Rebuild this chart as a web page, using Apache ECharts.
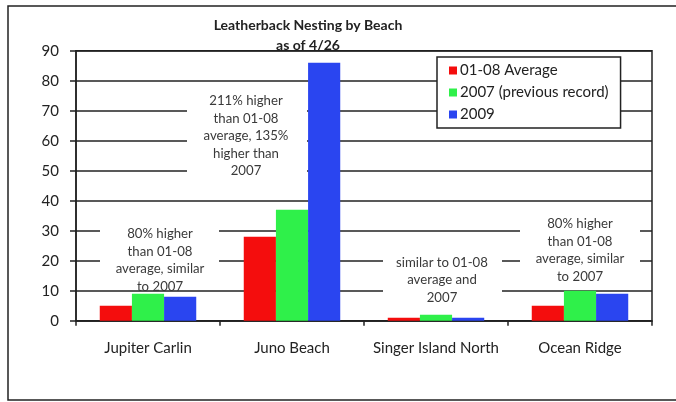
<!DOCTYPE html>
<html>
<head>
<meta charset="utf-8">
<script src="https://cdn.jsdelivr.net/npm/echarts@6/dist/echarts.min.js"></script>
<style>
  html, body { margin: 0; padding: 0; background: #fff; }
  #chart { width: 676px; height: 402px; }
</style>
</head>
<body>
<div id="chart"></div>
<script>
// beaches on the x axis
const beaches = ['Jupiter Carlin', 'Juno Beach', 'Singer Island North', 'Ocean Ridge']
// nest counts per series
const avg0108 = [5, 28, 1, 5]
const prev2007 = [9, 37, 2, 10]
const year2009 = [8, 86, 1, 9]
const seriesNames = ['01-08 Average', '2007 (previous record)', '2009']
const seriesColors = ['#f40d0d', '#2ff04a', '#2a45f0']
// notes written over the chart
const notes = [
  '80% higher\nthan 01-08\naverage, similar\nto 2007',
  '211% higher\nthan 01-08\naverage, 135%\nhigher than\n2007',
  'similar to 01-08\naverage and\n2007',
  '80% higher\nthan 01-08\naverage, similar\nto 2007',
]

const FONT = 'Lato, "Open Sans", sans-serif'
const chart = echarts.init(document.getElementById('chart'))

// white boxes behind the notes, they hide the grid lines
const noteBoxes = [
  { x: 100, y: 222, w: 119, h: 59, cx: 160, cy: 260 },
  { x: 187, y: 91, w: 120, h: 89, cx: 246, cy: 136 },
  { x: 383, y: 250, w: 119, h: 53, cx: 442, cy: 280 },
  { x: 520, y: 213, w: 120, h: 70, cx: 580, cy: 250 },
]

const graphics = [
  {
    type: 'rect',
    z: 0,
    silent: true,
    shape: { x: 8, y: 6, width: 680, height: 394 },
    style: { fill: 'none', stroke: '#222', lineWidth: 1.5 },
  },
]
noteBoxes.forEach((b, i) => {
  graphics.push({
    type: 'rect',
    z: 50,
    silent: true,
    shape: { x: b.x, y: b.y, width: b.w, height: b.h },
    style: { fill: '#fff' },
  })
  graphics.push({
    type: 'text',
    z: 51,
    silent: true,
    x: b.cx,
    y: b.cy,
    style: {
      text: notes[i],
      align: 'center',
      verticalAlign: 'middle',
      fontSize: 13.2,
      fontFamily: FONT,
      lineHeight: 17.5,
      fill: '#3a3a3a',
    },
  })
})

const option = {
  animation: false,
  backgroundColor: '#fff',
  title: {
    text: 'Leatherback Nesting by Beach\nas of 4/26',
    left: 303,
    top: 10,
    textAlign: 'center',
    textStyle: {
      fontFamily: FONT,
      fontSize: 14,
      fontWeight: 'bold',
      color: '#222',
      lineHeight: 20,
    },
  },
  legend: {
    orient: 'vertical',
    left: 437,
    top: 57,
    padding: [6, 12, 6, 12],
    itemWidth: 8,
    itemHeight: 8,
    itemGap: 7,
    backgroundColor: '#fff',
    borderColor: '#222',
    borderWidth: 1.5,
    borderRadius: 0,
    z: 60,
    textStyle: {
      fontFamily: FONT,
      fontSize: 15,
      color: '#222',
      padding: [0, 0, 0, -2],
    },
    data: seriesNames.map((n) => ({ name: n, icon: 'rect' })),
  },
  grid: {
    left: 76,
    right: 24,
    top: 50.7,
    bottom: 81.3,
    show: true,
    borderColor: '#222',
    borderWidth: 1.5,
  },
  xAxis: {
    type: 'category',
    data: beaches,
    axisLine: { lineStyle: { color: '#222', width: 1.5 } },
    axisTick: { show: true, length: 5, lineStyle: { color: '#222', width: 1.5 } },
    axisLabel: {
      interval: 0,
      fontFamily: FONT,
      fontSize: 15,
      color: '#222',
      margin: 20,
    },
  },
  yAxis: {
    type: 'value',
    min: 0,
    max: 90,
    interval: 10,
    axisLine: { show: true, lineStyle: { color: '#222', width: 1.5 } },
    axisTick: { show: true, length: 6, lineStyle: { color: '#222', width: 1.5 } },
    axisLabel: {
      fontFamily: FONT,
      fontSize: 15,
      color: '#222',
      margin: 17,
    },
    splitLine: { lineStyle: { color: '#222', width: 1.5 } },
  },
  series: [avg0108, prev2007, year2009].map((d, i) => ({
    name: seriesNames[i],
    type: 'bar',
    data: d,
    barGap: '0%',
    barCategoryGap: '33%',
    itemStyle: { color: seriesColors[i] },
    z: 10,
  })),
  graphic: graphics,
}

chart.setOption(option)
</script>
</body>
</html>
